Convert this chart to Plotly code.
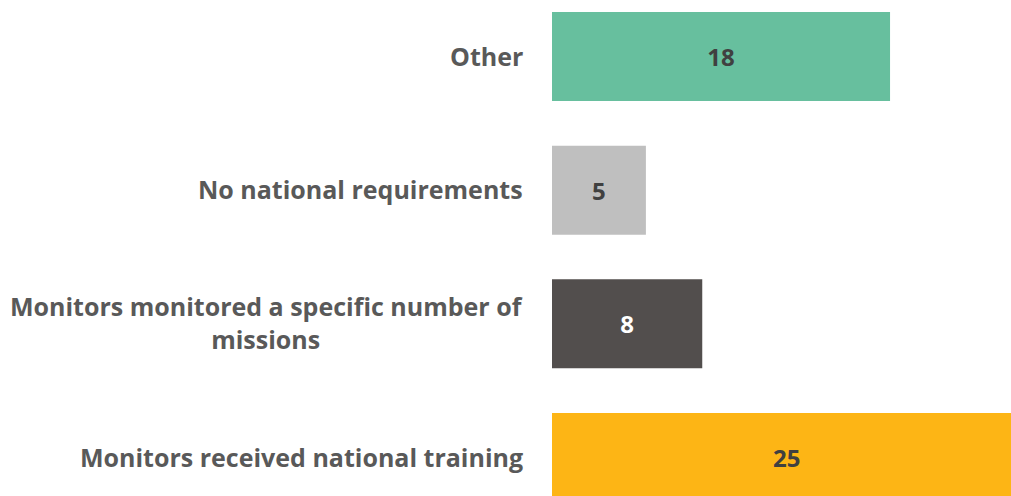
import plotly.graph_objects as go

categories = [
    "Monitors received national training",
    "Monitors monitored a specific number of<br>missions",
    "No national requirements",
    "Other",
]
values = [25, 8, 5, 18]
bar_colors = ["#FDB515", "#524E4D", "#BFBFBF", "#67BF9E"]
value_text_colors = ["#404040", "#FFFFFF", "#404040", "#404040"]

FONT = "Open Sans"

fig = go.Figure()
fig.add_trace(go.Bar(
    y=list(range(len(categories))),
    x=values,
    orientation="h",
    marker=dict(color=bar_colors, line=dict(width=0)),
    width=0.666,
    text=[str(v) for v in values],
    textposition="inside",
    insidetextanchor="middle",
    textangle=0,
    textfont=dict(family=FONT, size=24, color=value_text_colors, weight="bold"),
    hoverinfo="skip",
))

for i, c in enumerate(categories):
    fig.add_annotation(
        x=0, xref="paper", y=i, yref="y",
        text="<b>" + c + "</b>",
        xanchor="right", yanchor="middle", align="center",
        xshift=-27, yshift=1, showarrow=False,
        font=dict(family=FONT, size=25, color="#595959"),
    )

fig.update_layout(
    width=1011, height=496,
    margin=dict(l=552, r=0, t=0, b=0),
    paper_bgcolor="white", plot_bgcolor="white",
    showlegend=False,
    uniformtext=dict(mode=False),
    xaxis=dict(range=[0, 24.44], visible=False, fixedrange=True),
    yaxis=dict(range=[-0.288, 3.423], visible=False, fixedrange=True),
)

fig.write_html(
    "out.html",
    config=dict(displayModeBar=False),
    post_script="document.body.style.margin='0';document.body.style.overflow='hidden';",
)
